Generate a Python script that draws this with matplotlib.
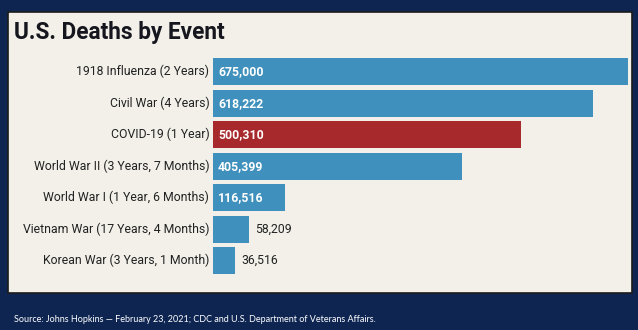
import matplotlib
matplotlib.use('Agg')
import matplotlib.pyplot as plt
from matplotlib.patches import Rectangle

# data
events = ["1918 Influenza (2 Years)", "Civil War (4 Years)", "COVID-19 (1 Year)",
          "World War II (3 Years, 7 Months)", "World War I (1 Year, 6 Months)",
          "Vietnam War (17 Years, 4 Months)", "Korean War (3 Years, 1 Month)"]
deaths = [675000, 618222, 500310, 405399, 116516, 58209, 36516]
highlight = "COVID-19 (1 Year)"

BLUE = "#3f90bc"
RED = "#a8292b"
NAVY = "#0e2552"
PANEL = "#f2f0e9"

plt.rcParams['font.family'] = ['Roboto', 'DejaVu Sans']

W, H = 638, 330
fig = plt.figure(figsize=(W / 100, H / 100), dpi=100)
fig.patch.set_facecolor(NAVY)

# light card behind the chart
fig.patches.append(Rectangle((8 / W, 1 - 293 / H), 624 / W, 281 / H,
                             transform=fig.transFigure, facecolor=PANEL,
                             edgecolor="#1b1b1b", linewidth=1.2, zorder=-10))

ax = fig.add_axes([213 / W, 1 - 276.5 / H, 415 / W, 220.5 / H])
ax.set_facecolor("none")
ax.set_zorder(2)

ypos = list(range(len(events)))
colors = [RED if e == highlight else BLUE for e in events]
ax.barh(ypos, deaths, height=0.85, color=colors)
ax.set_xlim(0, max(deaths))
ax.set_ylim(len(events) - 0.5, -0.5)

for y, e, v in zip(ypos, events, deaths):
    ax.text(-6000, y, e, ha="right", va="center", fontsize=8.8, color="#222222")
    if v > 100000:
        ax.text(8000, y, f"{v:,}", ha="left", va="center", fontsize=8.8,
                fontweight="bold", color="white")
    else:
        ax.text(v + 9500, y, f"{v:,}", ha="left", va="center", fontsize=8.8,
                color="#222222")

ax.set_xticks([])
ax.set_yticks([])
for s in ax.spines.values():
    s.set_visible(False)

fig.text(14 / W, 1 - 33 / H, "U.S. Deaths by Event", ha="left", va="center",
         fontsize=16.3, fontweight="bold", color="#16161e")
fig.text(14 / W, 1 - 319 / H,
         "Source: Johns Hopkins \u2014 February 23, 2021; CDC and U.S. Department of Veterans Affairs.",
         ha="left", va="center", fontsize=6.5, color="white", family=["Lato", "DejaVu Sans"])

fig.savefig("out.png", dpi=100, facecolor=fig.get_facecolor())
